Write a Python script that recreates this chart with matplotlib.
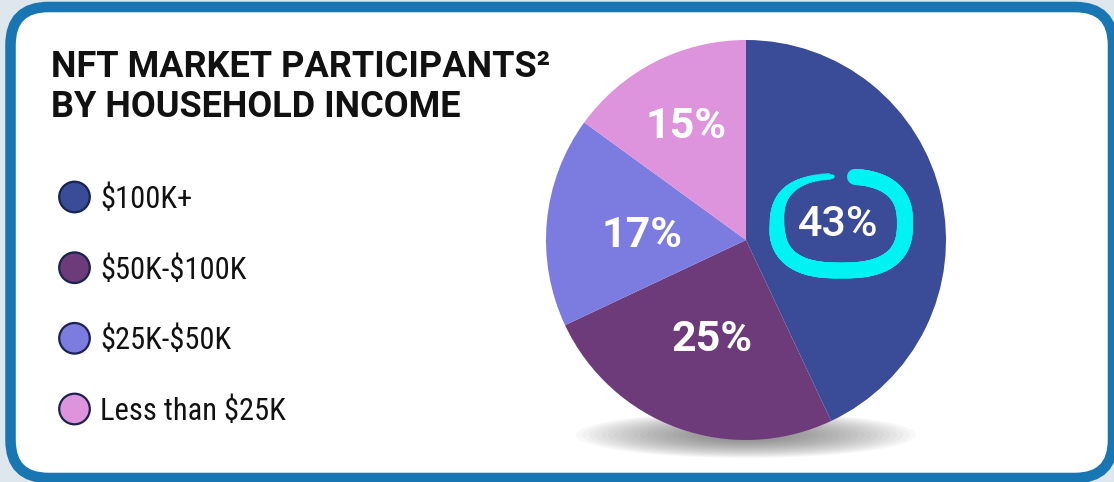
import numpy as np
import matplotlib.pyplot as plt
import matplotlib.font_manager as fm
from matplotlib.patches import FancyBboxPatch, Circle, Ellipse
from matplotlib.collections import LineCollection

# ============ 数据 ============
categories = ['\\$100K+', '\\$50K-\\$100K', '\\$25K-\\$50K', 'Less than \\$25K']
shares = [43, 25, 17, 15]
pct_labels = ['43%', '25%', '17%', '15%']
colors = ['#3a4b97', '#6e3b7a', '#7b7be0', '#dd94dc']
title_lines = ['NFT MARKET PARTICIPANTS\u00b2', 'BY HOUSEHOLD INCOME']

# ============ 样式 ============
W, H = 1114, 482
border_color = '#1877b3'
legend_edge = '#1a2350'
loop_color = '#00f2f2'
title_font = 'Roboto'
label_dist = [0.47, 0.50, 0.52, 0.665]


def pick_font(cands):
    for c in cands:
        try:
            fm.findfont(fm.FontProperties(family=c), fallback_to_default=False)
            return c
        except Exception:
            pass
    return 'Roboto'


legend_font = pick_font(['Roboto Condensed', 'Liberation Sans Narrow', 'Roboto'])

# 饼图中心/半径（像素）
cx, cy, R = 746, 240, 200

fig = plt.figure(figsize=(W / 100, H / 100), dpi=100)
fig.patch.set_facecolor('#dfe7ee')

# 背景层（像素坐标）
bg = fig.add_axes([0, 0, 1, 1])
bg.set_xlim(0, W)
bg.set_ylim(H, 0)
bg.axis('off')

box = FancyBboxPatch((10.5, 7), 1102.5, 471, boxstyle='round,pad=0,rounding_size=38',
                     facecolor='white', edgecolor=border_color, linewidth=7.6, zorder=1)
bg.add_patch(box)

# 饼图阴影
for i in range(25):
    k = 1 - i / 25
    bg.add_patch(Ellipse((746, 435), 320 * k + 20, 42 * k + 4, facecolor='#555555',
                         edgecolor='none', alpha=0.04, zorder=2))

# 标题
bg.text(51, 77, title_lines[0], fontsize=26, fontweight='bold', family=title_font,
        color='#111111', va='baseline', ha='left', zorder=3)
bg.text(51, 117, title_lines[1], fontsize=26, fontweight='bold', family=title_font,
        color='#111111', va='baseline', ha='left', zorder=3)

# 图例
legend_y = [197, 267.7, 338.3, 409]
for name, col, y in zip(categories, colors, legend_y):
    bg.add_patch(Circle((74.5, y), 15.3, facecolor=col, edgecolor=legend_edge,
                        linewidth=1.6, zorder=3))
    bg.text(100, y + 11, name, fontsize=22, family=legend_font, color='#111111',
            va='baseline', ha='left', zorder=3)

# 饼图
lim = 1.25
pw = 2 * lim * R
ax = fig.add_axes([(cx - pw / 2) / W, (H - cy - pw / 2) / H, pw / W, pw / H])
ax.patch.set_alpha(0)
wedges, _ = ax.pie(shares, colors=colors, startangle=90, counterclock=False,
                   wedgeprops=dict(linewidth=0))
ax.set_aspect('auto')
ax.set_xlim(-lim, lim)
ax.set_ylim(-lim, lim)
ax.axis('off')


def loop_pts(x0, y0, a, b, t0, t1, n, p=2.6):
    t = np.linspace(np.deg2rad(t0), np.deg2rad(t1), n)
    c, s = np.cos(t), np.sin(t)
    xs = x0 + a * np.sign(c) * np.abs(c) ** (2 / p)
    ys = y0 + b * np.sign(s) * np.abs(s) ** (2 / p)
    return np.column_stack([xs, ys])


for w, lab, d in zip(wedges, pct_labels, label_dist):
    ang = np.deg2rad((w.theta1 + w.theta2) / 2)
    x, y = d * np.cos(ang), d * np.sin(ang) - 0.025
    weight = 'medium' if lab == '43%' else 'bold'
    ax.text(x, y, lab, fontsize=31, fontweight=weight, family=title_font,
            color='white', ha='center', va='center', zorder=5)
    if lab == '43%':
        # 手绘风格圈
        lx, ly = x + 0.016, y + 0.005
        pts = loop_pts(lx, ly, 0.32, 0.235, 82, -266, 420)
        segs = np.stack([pts[:-1], pts[1:]], axis=1)
        s = np.linspace(0, 1, len(segs))
        lw = np.where(s < 0.72, 11.5, 11.5 - (s - 0.72) / 0.28 * 8.5)
        lc = LineCollection(segs, colors=loop_color, linewidths=lw,
                            capstyle='round', zorder=4)
        ax.add_collection(lc)
        for off in (0.014, -0.012):
            tail = loop_pts(lx, ly, 0.32 + off, 0.235 + off, -150, -264, 80)
            ax.plot(tail[:, 0], tail[:, 1], color=loop_color, linewidth=1.2,
                    alpha=0.8, zorder=4)

fig.savefig('out.png', dpi=100, facecolor=fig.get_facecolor())
